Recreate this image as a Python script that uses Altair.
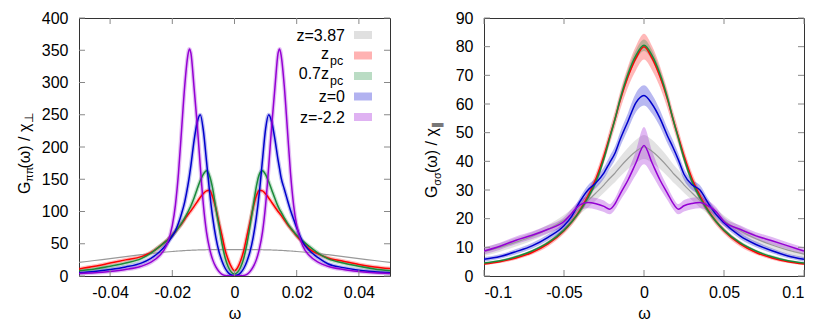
import altair as alt
import pandas as pd

FONT = "Liberation Sans"

# ---------------- left panel data: G_pipi(w)/chi_perp ----------------
XL = [-0.05, -0.045, -0.04, -0.035, -0.03, -0.027, -0.024, -0.022, -0.02, -0.019,
      -0.018, -0.017, -0.016, -0.015, -0.0145, -0.014, -0.013, -0.012, -0.011, -0.01,
      -0.009, -0.008, -0.007, -0.006, -0.005, -0.004, -0.003, -0.002, -0.001, 0,
      0.001, 0.002, 0.003, 0.004, 0.005, 0.006, 0.007, 0.008, 0.009, 0.01,
      0.011, 0.012, 0.013, 0.014, 0.0145, 0.015, 0.016, 0.017, 0.018, 0.019,
      0.02, 0.022, 0.024, 0.027, 0.03, 0.035, 0.04, 0.045, 0.05]

L_GRAY = [21, 24, 27, 30, 33, 34.8, 36.3, 37.2, 38, 38.4, 38.8, 39.1, 39.4, 39.7, 39.8,
          39.9, 40.1, 40.3, 40.5, 40.6, 40.7, 40.8, 40.9, 40.9, 41, 41, 41, 41, 41, 41,
          41, 41, 41, 41, 41, 40.9, 40.9, 40.8, 40.7, 40.6, 40.5, 40.3, 40.1, 39.9, 39.8,
          39.7, 39.4, 39.1, 38.8, 38.4, 38, 37.2, 36.3, 34.8, 33, 30, 27, 24, 21]
L_RED = [11, 15, 20, 25, 30, 36, 46, 54, 63, 69, 75, 81, 88, 95, 98,
         101, 108, 115, 122, 128, 132, 133, 122, 105, 83, 62, 40, 25, 14, 8,
         13, 24, 40, 62, 84, 106, 124, 133, 132, 127, 121, 114, 107, 100, 97,
         94, 87, 80, 74, 68, 62, 52, 42, 34, 28, 23, 18, 14, 11.5]
L_GREEN = [8, 11, 15, 20, 27, 35, 46, 54, 63, 69, 75, 82, 90, 99, 104,
           109, 121, 135, 148, 158, 163, 155, 135, 105, 78, 50, 28, 14, 6, 3,
           6, 14, 28, 50, 78, 108, 138, 158, 163, 157, 146, 133, 120, 108, 103,
           99, 90, 82, 75, 69, 63, 54, 46, 35, 27, 20, 15, 11, 8]
L_BLUE = [5, 7, 10, 14, 20, 27, 38, 48, 62, 70, 82, 97, 115, 140, 155,
          172, 210, 238, 250, 225, 178, 130, 90, 60, 38, 23, 12, 5, 1.5, 0.5,
          1.5, 5, 12, 23, 38, 60, 90, 130, 180, 228, 250, 238, 212, 180, 166,
          152, 135, 118, 102, 88, 75, 52, 40, 28, 19, 13, 9, 6.5, 5]
L_PURPLE = [4, 5, 7, 10, 15, 21, 32, 46, 78, 110, 160, 228, 295, 342, 352,
            345, 292, 235, 170, 110, 68, 42, 25, 14, 7, 2.5, 0.8, 0.2, 0, 0,
            0, 0.2, 0.8, 2.5, 7, 14, 25, 42, 68, 110, 170, 235, 292, 345, 352,
            342, 295, 228, 160, 110, 78, 46, 32, 21, 15, 10, 7, 5, 4]

# ---------------- right panel data: G_sigsig(w)/chi_par ----------------
XR = [-0.1, -0.09, -0.08, -0.07, -0.06, -0.05, -0.045, -0.04, -0.035, -0.03, -0.025,
      -0.0215, -0.018, -0.015, -0.01, -0.005, 0, 0.005, 0.01, 0.015, 0.018, 0.0215,
      0.025, 0.03, 0.035, 0.04, 0.045, 0.05, 0.06, 0.07, 0.08, 0.09, 0.1]

R_GRAY = [8.5, 10, 11.8, 13.8, 16.3, 19.5, 21.5, 23.8, 26.3, 29, 31.8, 34, 36, 38, 41, 43.5, 45,
          43.5, 41, 38, 36, 34, 31.8, 29, 26.3, 23.8, 21.5, 19.3, 15.8, 13, 10.8, 9, 7.6]
R_GRAY_E = [1.5, 1.5, 1.5, 1.5, 1.6, 1.8, 2, 2.2, 2.4, 2.6, 2.8, 3, 3.2, 3.4, 3.7, 4, 4.2,
            4, 3.7, 3.4, 3.2, 3, 2.8, 2.6, 2.4, 2.2, 2, 1.8, 1.6, 1.5, 1.5, 1.5, 1.5]
R_RED = [4.2, 5, 6.3, 8.2, 11.2, 15.8, 19, 23, 28, 34, 42, 48.5, 55, 61, 69.5, 76, 80,
         76, 69.5, 61, 55, 48.5, 42, 34, 28, 23, 19, 15.8, 11.2, 8.2, 6.3, 5, 4.2]
R_RED_E = [0.4, 0.5, 0.6, 0.7, 0.9, 1.1, 1.3, 1.5, 1.7, 2, 2.3, 2.6, 2.9, 3.2, 3.7, 4.2, 4.5,
           4.2, 3.7, 3.2, 2.9, 2.6, 2.3, 2, 1.7, 1.5, 1.3, 1.1, 0.9, 0.7, 0.6, 0.5, 0.4]
R_GREEN = [4.5, 5.3, 6.7, 8.7, 11.6, 16, 19, 22.7, 27.3, 33, 41, 48, 55, 61.5, 70.5, 77, 80.5,
           77, 70.5, 61.5, 55, 48, 41, 33, 27.3, 22.7, 19, 16, 11.6, 8.7, 6.7, 5.3, 4.5]
R_GREEN_E = [0.4, 0.4, 0.5, 0.5, 0.6, 0.7, 0.8, 0.9, 1, 1.1, 1.2, 1.3, 1.4, 1.5, 1.6, 1.8, 2,
             1.8, 1.6, 1.5, 1.4, 1.3, 1.2, 1.1, 1, 0.9, 0.8, 0.7, 0.6, 0.5, 0.5, 0.4, 0.4]
R_BLUE = [5.8, 6.8, 8.5, 10.5, 13.5, 17.5, 21, 26, 30, 32.5, 36, 39.5, 43, 47.5, 54, 60.5, 63,
          60, 55, 48.5, 45, 40.5, 35.5, 31.8, 30, 25.5, 21.5, 18.6, 14, 11, 8.8, 7, 5.8]
R_BLUE_E = [0.8, 0.8, 0.9, 1, 1.1, 1.2, 1.3, 1.5, 1.7, 1.8, 2, 2.2, 2.4, 2.6, 2.9, 3.3, 3.5,
            3.3, 2.9, 2.6, 2.4, 2.2, 2, 1.8, 1.7, 1.5, 1.3, 1.2, 1.1, 1, 0.9, 0.8, 0.8]
R_PURPLE = [8.7, 10.4, 12.5, 14.2, 16.3, 19, 22, 24.8, 25.6, 25.2, 24.3, 23.3, 25.3, 28.5, 33.5, 39.5, 45.5,
            39.5, 33.5, 28.5, 25.5, 23.3, 24.5, 25.3, 25.6, 24.5, 22.5, 19, 16.3, 14, 12.3, 10.5, 8.7]
R_PURPLE_E = [1.2, 1.2, 1.3, 1.3, 1.4, 1.5, 1.6, 1.8, 2, 2, 2, 1.8, 2, 2.3, 3, 4.2, 6.5,
              4.2, 3, 2.3, 2, 1.8, 2, 2, 2, 1.8, 1.6, 1.5, 1.4, 1.3, 1.3, 1.2, 1.2]

# ---------------- labels / ticks ----------------
LEG_MAIN = ["z=3.87", "z", "0.7z", "z=0", "z=-2.2"]
LEG_SUB = ["", "pc", "pc", "", ""]
COLORS = ["#999999", "#ff0000", "#1a8a3a", "#0000cc", "#9400d3"]
LX_TICKS = [-0.04, -0.02, 0, 0.02, 0.04]
LY_TICKS = [0, 50, 100, 150, 200, 250, 300, 350, 400]
RX_TICKS = [-0.1, -0.05, 0, 0.05, 0.1]
RY_TICKS = [0, 10, 20, 30, 40, 50, 60, 70, 80, 90]

W1, W2, H = 311, 320, 258
TICK = 6
TICK_COLOR = "#888888"


def make_axes(xt, yt):
    xa = alt.Axis(values=xt, ticks=False, domain=False, grid=False,
                  labelExpr="'' + datum.value", labelFont=FONT, labelFontSize=16,
                  labelColor="#000000", labelPadding=8, title="ω", titleFont=FONT,
                  titleFontSize=16, titleFontWeight="normal", titleColor="#000000",
                  titlePadding=5)
    ya = alt.Axis(values=yt, ticks=False, domain=False, grid=False,
                  labelExpr="'' + datum.value", labelFont=FONT, labelFontSize=16,
                  labelColor="#000000", labelPadding=11, title="")
    return xa, ya


def text_piece(t, x, y, size, angle=0, align="left"):
    kw = dict(align=align, baseline="alphabetic", font=FONT, fontSize=size, color="#000000")
    if angle:
        kw["angle"] = angle
    return alt.Chart(pd.DataFrame({"t": [t]})).mark_text(**kw).encode(
        text="t:N", x=alt.value(x), y=alt.value(y))


def panel(X, series, errs, xdom, ydom, xt, yt, W, title_pieces, legend=False):
    xs = alt.Scale(domain=xdom, nice=False, zero=False)
    ysc = alt.Scale(domain=ydom, nice=False, zero=False)
    xa, ya = make_axes(xt, yt)
    layers = []
    # bands
    for i, (ys, col) in enumerate(zip(series, COLORS)):
        if errs is None:
            if i == 0:
                continue
            df = pd.DataFrame({"x": X, "y": ys})
            layers.append(alt.Chart(df).mark_line(color=col, opacity=0.25, strokeWidth=4,
                                                  interpolate="monotone", clip=True).encode(
                x=alt.X("x:Q", scale=xs, axis=xa), y=alt.Y("y:Q", scale=ysc, axis=ya)))
        else:
            df = pd.DataFrame({"x": X, "y": ys, "e": errs[i]})
            layers.append(alt.Chart(df).transform_calculate(
                lo="datum.y - datum.e", hi="datum.y + datum.e").mark_area(
                color=col, opacity=0.28, interpolate="monotone", clip=True).encode(
                x=alt.X("x:Q", scale=xs, axis=xa), y=alt.Y("lo:Q", scale=ysc, axis=ya),
                y2="hi:Q"))
    # lines
    for i, (ys, col) in enumerate(zip(series, COLORS)):
        df = pd.DataFrame({"x": X, "y": ys})
        layers.append(alt.Chart(df).mark_line(color=col, strokeWidth=1.2 if i == 0 else 1.5,
                                              interpolate="monotone", clip=True).encode(
            x=alt.X("x:Q", scale=xs, axis=xa), y=alt.Y("y:Q", scale=ysc, axis=ya)))
    # inward ticks
    dxt = pd.DataFrame({"x": xt})
    dyt = pd.DataFrame({"y": yt})
    for y1, y2 in [(H, H - TICK), (0, TICK)]:
        layers.append(alt.Chart(dxt).mark_rule(color=TICK_COLOR).encode(
            x=alt.X("x:Q", scale=xs, axis=xa), y=alt.value(y1), y2=alt.value(y2)))
    for x1, x2 in [(0, TICK), (W, W - TICK)]:
        layers.append(alt.Chart(dyt).mark_rule(color=TICK_COLOR).encode(
            y=alt.Y("y:Q", scale=ysc, axis=ya), x=alt.value(x1), x2=alt.value(x2)))
    # y title pieces
    for (t, px, py, size) in title_pieces:
        layers.append(text_piece(t, px, py, size, angle=270))
    # legend
    if legend:
        rows = [17, 37.5, 58, 78.5, 99]
        for i, ry in enumerate(rows):
            sw = pd.DataFrame({"a": [0]})
            layers.append(alt.Chart(sw).mark_rect(color=COLORS[i], opacity=0.3).encode(
                x=alt.value(275), x2=alt.value(293), y=alt.value(ry - 4), y2=alt.value(ry + 4)))
            if LEG_SUB[i]:
                layers.append(text_piece(LEG_MAIN[i], 250, ry + 3, 16, align="right"))
                layers.append(text_piece(LEG_SUB[i], 251, ry + 9, 12.5, align="left"))
            else:
                layers.append(text_piece(LEG_MAIN[i], 266, ry + 5.5, 16, align="right"))
    return alt.layer(*layers).properties(width=W, height=H)


left = panel(XL, [L_GRAY, L_RED, L_GREEN, L_BLUE, L_PURPLE], None,
             [-0.05, 0.05], [0, 400], LX_TICKS, LY_TICKS, W1,
             [("G", -49.5, 176, 16), ("ππ", -46, 163.8, 11),
              ("(ω) / χ", -49.5, 150.5, 16), ("⊥", -46, 105, 12)],
             legend=True)
right = panel(XR, [R_GRAY, R_RED, R_GREEN, R_BLUE, R_PURPLE],
              [R_GRAY_E, R_RED_E, R_GREEN_E, R_BLUE_E, R_PURPLE_E],
              [-0.1, 0.1], [0, 90], RX_TICKS, RY_TICKS, W2,
              [("G", -47, 180, 16), ("σσ", -43.5, 167.8, 11),
               ("(ω) / χ", -47, 155, 16), ("∥", -43.5, 110, 12)])

chart = alt.hconcat(left, right, spacing=32).properties(
    padding={"left": 8, "top": 1, "right": 5, "bottom": 5}
).configure_view(stroke="#333333", strokeWidth=1)

chart.save("out.html", embed_options={"renderer": "svg", "actions": False})
